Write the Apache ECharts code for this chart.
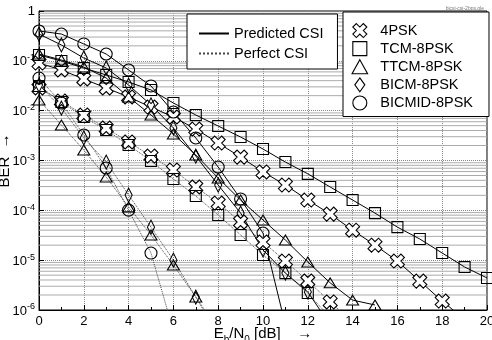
<!DOCTYPE html>
<html>
<head>
<meta charset="utf-8">
<script src="https://cdn.jsdelivr.net/npm/echarts@6/dist/echarts.min.js"></script>
<style>html,body{margin:0;padding:0;background:#fff}#c{width:492px;height:340px}</style>
</head>
<body>
<div id="c"></div>
<script>
// Eb/N0 values in dB (1 dB steps)
const snrDb = [0,1,2,3,4,5,6,7,8,9,10,11,12,13,14,15,16,17,18,19,20];
const xTicks = [0,2,4,6,8,10,12,14,16,18,20];
const legendCsi = ['Predicted CSI', 'Perfect CSI'];
const legendMods = ['4PSK', 'TCM-8PSK', 'TTCM-8PSK', 'BICM-8PSK', 'BICMID-8PSK'];

// Predicted CSI (solid lines)
const pred4psk   = [0.0904,0.0655,0.0432,0.0285,0.0188,0.0118,0.00746,0.00428,0.00224,0.00117,5.9e-4,3.22e-4,1.61e-4,8.4e-5,4.0e-5,2.0e-5,9.6e-6,3.8e-6,1.51e-6,6.5e-7];
const predTcm    = [0.131,0.0993,0.0718,0.052,0.0376,0.026,0.01425,0.00818,0.00492,0.00296,0.0017,9.3e-4,5.4e-4,2.94e-4,1.61e-4,8.8e-5,4.6e-5,2.66e-5,1.39e-5,7.3e-6,4.4e-6];
const predTtcm   = [0.137,0.104,0.0752,0.0452,0.0188,0.00818,0.0034,0.00129,4.45e-4,1.61e-4,6.4e-5,2.54e-5,9.2e-6,3.5e-6,1.58e-6,1.26e-6];
const predBicm   = [0.345,0.208,0.114,0.0718,0.0327,0.013,0.00449,0.00123,3.22e-4,8.8e-5,1.6e-5,5.5e-6,2.3e-6,5e-7];
const predBicmid = [0.397,0.345,0.218,0.137,0.0655,0.0313,0.0094,0.00283,7.4e-4,1.69e-4,3.5e-5,5e-7];

// Perfect CSI (dotted lines)
const perf4psk   = [0.0285,0.0156,0.00818,0.00449,0.00235,0.00123,6.44e-4,2.94e-4,1.40e-4,5.83e-5,2.31e-5,9.6e-6,3.82e-6,1.45e-6,5.7e-7];
const perfTcm    = [0.0313,0.0149,0.00746,0.00409,0.00205,9.8e-4,4.25e-4,1.94e-4,8.05e-5,3.2e-5,1.27e-5,5.5e-6,2.19e-6,7e-7];
const perfTtcm   = [0.0164,0.00515,0.00162,4.66e-4,1.17e-4,3.2e-5,8.0e-6,1.82e-6,4e-7];
const perfBicm   = [0.0327,0.0113,0.00283,9.3e-4,2.03e-4,4.6e-5,1.0e-5,1.82e-6,3.1e-7];
const perfBicmid = [0.0452,0.01425,0.00325,7.07e-4,1.01e-4,1.39e-5,3.8e-7];

const FONT = '"Liberation Sans", Arial, Helvetica, sans-serif';
const crossPath = 'path://M2.5,0 L5,2.5 L7.5,0 L10,2.5 L7.5,5 L10,7.5 L7.5,10 L5,7.5 L2.5,10 L0,7.5 L2.5,5 L0,2.5 Z';
const diamondPath = 'path://M5,0 L10,7 L5,14 L0,7 Z';
const squarePath = 'path://M0,0 L10,0 L10,10 L0,10 Z';
const trianglePath = 'path://M5,0 L10,9 L0,9 Z';

const markers = {
  '4PSK':        {symbol: crossPath, size: 14, fill: '#fff'},
  'TCM-8PSK':    {symbol: squarePath, size: 11, fill: 'rgba(255,255,255,0)'},
  'TTCM-8PSK':   {symbol: trianglePath, size: [12, 11], fill: 'rgba(255,255,255,0)'},
  'BICM-8PSK':   {symbol: diamondPath, size: [10, 14], fill: 'rgba(255,255,255,0)'},
  'BICMID-8PSK': {symbol: 'circle', size: 12, fill: 'rgba(255,255,255,0)'}
};

function mk(name, vals, dotted) {
  const m = markers[name];
  return {
    type: 'line', name: name,
    data: vals.map((v, i) => [snrDb[i], v]),
    symbol: m.symbol, symbolSize: m.size, symbolKeepAspect: true,
    showAllSymbol: true, clip: true, z: 3,
    lineStyle: {color: dotted ? '#444' : '#000', width: 1, type: dotted ? 'dotted' : 'solid'},
    itemStyle: {color: m.fill, borderColor: '#000', borderWidth: 1.1},
    emphasis: {disabled: true}, animation: false
  };
}

// minor log grid lines at 2..9 x 10^k, drawn across the x range
const minorGridData = [];
for (let k = -6; k <= -1; k++) {
  for (let m = 2; m <= 9; m++) {
    const v = Number((m * Math.pow(10, k)).toPrecision(3));
    minorGridData.push([snrDb[0], v], [snrDb[snrDb.length - 1], v], [snrDb[snrDb.length - 1], '-']);
  }
}

const series = [
  {type: 'line', name: 'minorGrid', data: minorGridData, symbol: 'none', z: 1, silent: true,
   animation: false, connectNulls: false, clip: true,
   lineStyle: {color: '#ababab', width: 1, type: 'solid'}},
  {type: 'line', name: legendCsi[0], data: [], symbol: 'none', lineStyle: {color: '#000', width: 1, type: 'solid'}, itemStyle: {color: '#000'}},
  {type: 'line', name: legendCsi[1], data: [], symbol: 'none', lineStyle: {color: '#444', width: 1, type: 'dotted'}, itemStyle: {color: '#444'}},
  mk('4PSK', pred4psk, false),
  mk('TCM-8PSK', predTcm, false),
  mk('TTCM-8PSK', predTtcm, false),
  mk('BICM-8PSK', predBicm, false),
  mk('BICMID-8PSK', predBicmid, false),
  mk('4PSK', perf4psk, true),
  mk('TCM-8PSK', perfTcm, true),
  mk('TTCM-8PSK', perfTtcm, true),
  mk('BICM-8PSK', perfBicm, true),
  mk('BICMID-8PSK', perfBicmid, true)
];

const chart = echarts.init(document.getElementById('c'), null, {renderer: 'canvas'});
chart.setOption({
  animation: false,
  backgroundColor: '#fff',
  textStyle: {fontFamily: FONT},
  title: {text: 'bicsi-csi-2bps.gle', right: 3, top: 1,
    textStyle: {fontSize: 5, color: '#777', fontWeight: 'normal', fontFamily: FONT}},
  grid: {left: 39, top: 11, right: 5, bottom: 30, containLabel: false, outerBoundsMode: 'none',
    show: true, borderColor: '#000', borderWidth: 1, backgroundColor: 'transparent'},
  xAxis: {
    type: 'value', min: 0, max: 20, interval: 2,
    name: '{m|E}{s|b}{m|/N}{s|0}{m| [dB]    →}',
    nameLocation: 'middle', nameGap: 16, nameMoveOverlap: false,
    nameTextStyle: {rich: {
      m: {fontSize: 15, color: '#000', fontFamily: FONT, verticalAlign: 'bottom', padding: [0, 0, 4, 0]},
      s: {fontSize: 10, color: '#000', fontFamily: FONT, verticalAlign: 'bottom'}
    }},
    axisLine: {show: true, lineStyle: {color: '#000', width: 1}},
    axisTick: {show: true, inside: true, length: 5, lineStyle: {color: '#000'}},
    minorTick: {show: true, splitNumber: 2, length: 3, lineStyle: {color: '#000'}},
    axisLabel: {fontSize: 13, color: '#000', margin: 5, fontFamily: FONT,
      formatter: v => (xTicks.indexOf(v) >= 0 ? String(v) : '')},
    splitLine: {show: true, lineStyle: {color: '#888', type: 'dotted', width: 1}}
  },
  yAxis: {
    type: 'log', logBase: 10, min: 1e-6, max: 1, splitNumber: 6,
    name: 'BER  →', nameLocation: 'middle', nameGap: 27, nameRotate: 90, nameMoveOverlap: false,
    nameTextStyle: {fontSize: 15, color: '#000', fontFamily: FONT},
    axisLine: {show: true, lineStyle: {color: '#000', width: 1}},
    axisTick: {show: true, inside: true, length: 5, lineStyle: {color: '#000'}},
    axisLabel: {color: '#000', margin: 4, fontFamily: FONT,
      formatter: v => {
        const e = Math.round(Math.log10(v));
        return e === 0 ? '{b|1}' : '{b|10}{p|' + e + '}';
      },
      rich: {
        b: {fontSize: 13, color: '#000', fontFamily: FONT, verticalAlign: 'bottom'},
        p: {fontSize: 9, color: '#000', fontFamily: FONT, verticalAlign: 'bottom', padding: [0, 0, 6, 0]}
      }},
    splitLine: {show: true, lineStyle: {color: '#888', type: 'dotted', width: 1}}
  },
  legend: [
    {
      orient: 'vertical', left: 187, top: 14, selectedMode: false,
      padding: [12, 14, 8, 11], itemGap: 5, itemWidth: 30, itemHeight: 14,
      backgroundColor: '#fff', borderColor: '#000', borderWidth: 1, borderRadius: 0,
      textStyle: {fontSize: 14.5, color: '#000', fontFamily: FONT},
      itemStyle: {color: 'rgba(0,0,0,0)', borderWidth: 0, opacity: 0},
      data: legendCsi.map(n => ({name: n}))
    },
    {
      orient: 'vertical', left: 343, top: 12, selectedMode: false,
      padding: [11, 16, 6, 8.5], itemGap: 3, itemWidth: 31, itemHeight: 14,
      backgroundColor: '#fff', borderColor: '#000', borderWidth: 1, borderRadius: 0,
      textStyle: {fontSize: 14.5, color: '#000', fontFamily: FONT},
      symbolKeepAspect: true,
      data: legendMods.map(n => ({
        name: n,
        icon: markers[n].symbol,
        symbolKeepAspect: true,
        itemStyle: {color: '#fff', borderColor: '#000', borderWidth: 1.1}
      }))
    }
  ],
  series: series
});
</script>
</body>
</html>
